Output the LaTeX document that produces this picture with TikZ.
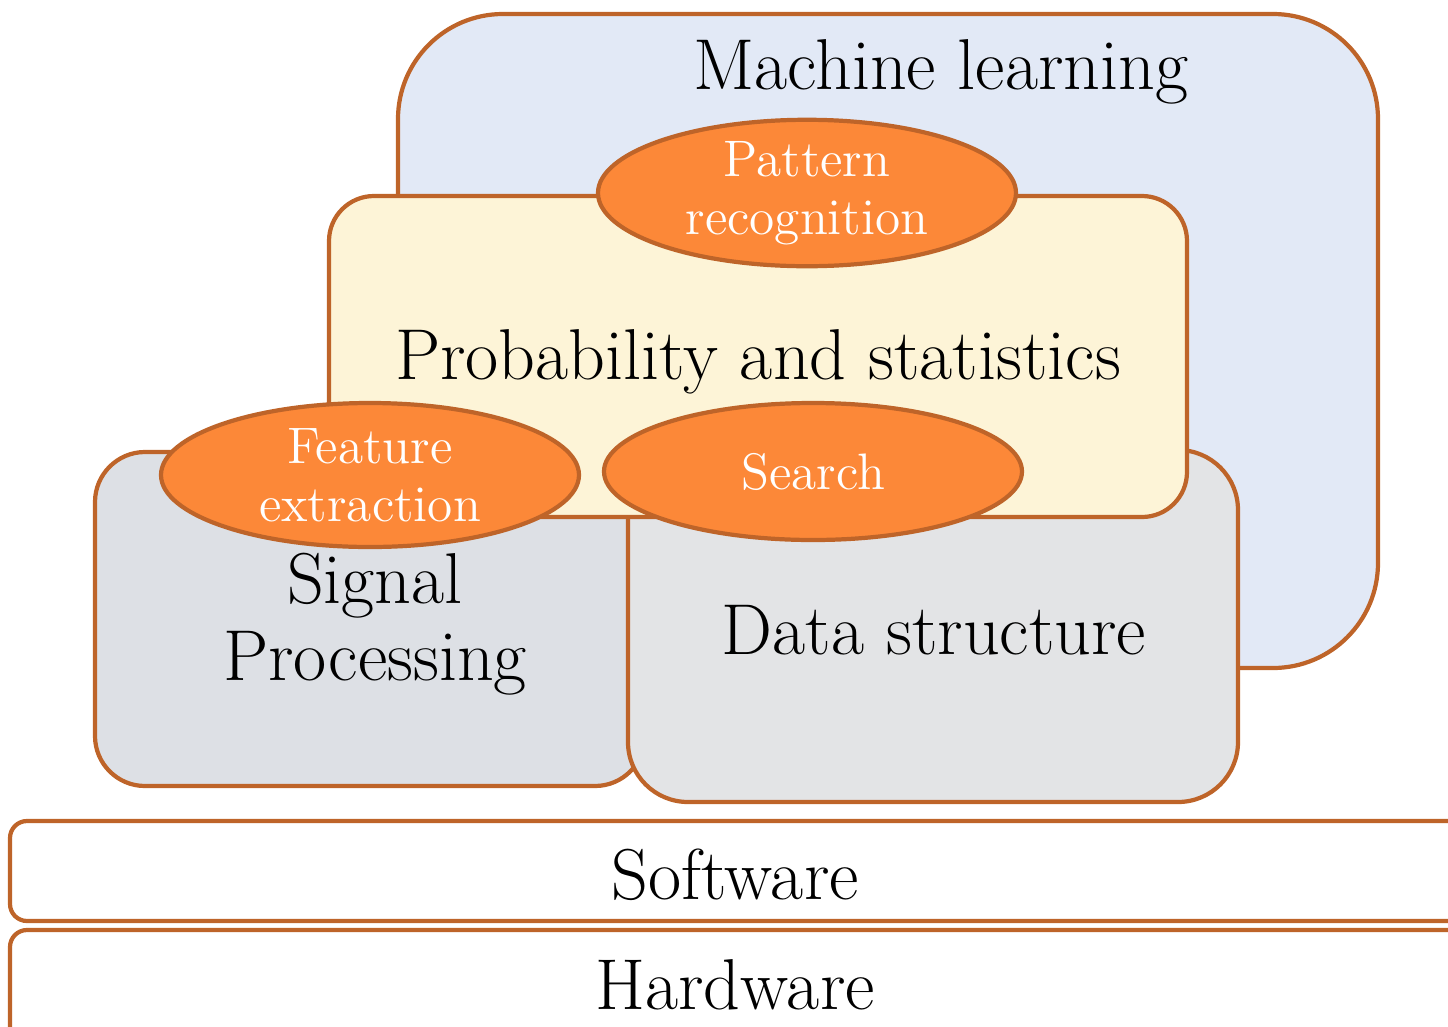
\documentclass[tikz,border=0pt]{standalone}
\usepackage{tikz}
\usetikzlibrary{shapes.geometric,positioning}
\usepackage{xcolor}
\definecolor{edge}{HTML}{BE6429}
\definecolor{mlblue}{HTML}{E2E9F6}
\definecolor{statyellow}{HTML}{FDF4D7}
\definecolor{siggray}{HTML}{DDE0E5}
\definecolor{datagray}{HTML}{E3E4E6}
\definecolor{topic}{HTML}{FC8838}

\begin{document}
\begin{tikzpicture}[
  area/.style={rectangle, draw=edge, line width=1.2pt, fill=#1, inner sep=0pt},
  topicnode/.style={ellipse, draw=edge, line width=1.2pt, fill=topic, inner sep=0pt,
    minimum width=4.18cm, minimum height=1.4cm, text=white, align=center,
    font=\fontsize{14.6}{16.5}\selectfont},
  big/.style={font=\fontsize{20.5}{22}\selectfont, align=center}
]
  \useasboundingbox (0,0) rectangle (14.48,-10.27);

  % Fields, back to front
  \node[area=mlblue, minimum width=9.8cm, minimum height=6.54cm, rounded corners=1.05cm] (ml) at (8.88,-3.41) {};
  \node[area=siggray, minimum width=5.5cm, minimum height=3.34cm, rounded corners=0.5cm] (sig) at (3.70,-6.19) {};
  \node[area=datagray, minimum width=6.1cm, minimum height=3.52cm, rounded corners=0.6cm] (data) at (9.33,-6.26) {};
  \node[area=statyellow, minimum width=8.58cm, minimum height=3.21cm, rounded corners=0.45cm] (stat) at (7.58,-3.565) {};

  % Base layers
  \node[area=white, minimum width=14.7cm, minimum height=1.0cm, rounded corners=0.17cm] (sw) at (7.45,-8.71) {};
  \node[area=white, minimum width=14.7cm, minimum height=1.3cm, rounded corners=0.17cm] (hw) at (7.45,-9.95) {};

  % Field names
  \node[big] (mltext) at (9.41,-0.72) {Machine learning};
  \node[big] (stattext) at (7.58,-3.62) {Probability and statistics};
  \node[big] (sigtext) at (3.75,-6.24) {Signal\\Processing};
  \node[big] (datatext) at (9.34,-6.30) {Data structure};
  \node[big] (swtext) at (7.35,-8.75) {Software};
  \node[big] (hwtext) at (7.35,-9.85) {Hardware};

  % Topics between fields
  \node[topicnode] (pattern) at (8.07,-1.93) {Pattern\\recognition};
  \node[topicnode, minimum height=1.44cm] (feature) at (3.70,-4.75) {Feature\\extraction};
  \node[topicnode, minimum height=1.37cm] (search) at (8.13,-4.715) {Search};
\end{tikzpicture}
\end{document}
